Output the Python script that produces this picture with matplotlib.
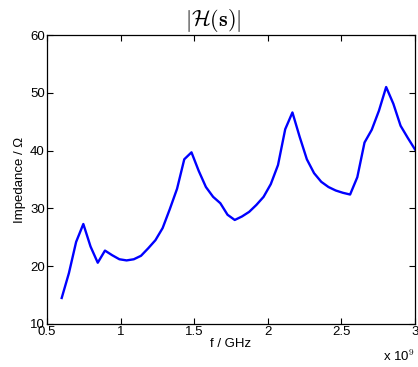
import matplotlib.pyplot as plt
import numpy as np

plt.rcParams['font.family'] = ['Liberation Sans', 'DejaVu Sans']
plt.rcParams['mathtext.fontset'] = 'cm'

# Frequency sweep (Hz) and impedance magnitude (Ohm)
f = np.linspace(0.6e9, 3.0e9, 50)
Z = [14.5, 18.8, 24.2, 27.3, 23.4, 20.6, 22.7, 21.9, 21.2, 21.0,
     21.2, 21.8, 23.1, 24.5, 26.6, 29.9, 33.4, 38.5, 39.7, 36.5,
     33.7, 32.0, 30.9, 28.9, 28.0, 28.6, 29.4, 30.6, 32.0, 34.2,
     37.5, 43.7, 46.6, 42.4, 38.5, 36.1, 34.6, 33.7, 33.1, 32.7,
     32.4, 35.4, 41.4, 43.6, 46.9, 51.0, 48.1, 44.3, 42.2, 40.2]

xticks = [0.5e9, 1.0e9, 1.5e9, 2.0e9, 2.5e9, 3.0e9]
xticklabels = ['0.5', '1', '1.5', '2', '2.5', '3']
yticks = [10, 20, 30, 40, 50, 60]

fig = plt.figure(figsize=(4.18, 3.67), dpi=100)
ax = fig.add_axes([0.1124, 0.1172, 0.8804, 0.7874])

ax.plot(f, Z, color='#0000ff', lw=1.7)

ax.set_xlim(0.5e9, 3.0e9)
ax.set_ylim(10, 60)
ax.set_xticks(xticks)
ax.set_xticklabels(xticklabels)
ax.set_yticks(yticks)
ax.tick_params(direction='in', top=True, right=True, length=4, width=0.8,
               labelsize=9.5, pad=1.5)
for s in ax.spines.values():
    s.set_linewidth(0.9)

ax.set_xlabel('f / GHz', fontsize=9.5, labelpad=0)
ax.set_ylabel('Impedance / Ω', fontsize=9.5, labelpad=3)
fig.text(0.51, 0.908, r'$|\mathcal{H}(\mathbf{s})|$', ha='center', va='bottom',
         fontsize=16)
fig.text(0.993, 0.008, r'x 10$^{9}$', ha='right', va='bottom', fontsize=9.5)

fig.savefig('out.png', dpi=100)
